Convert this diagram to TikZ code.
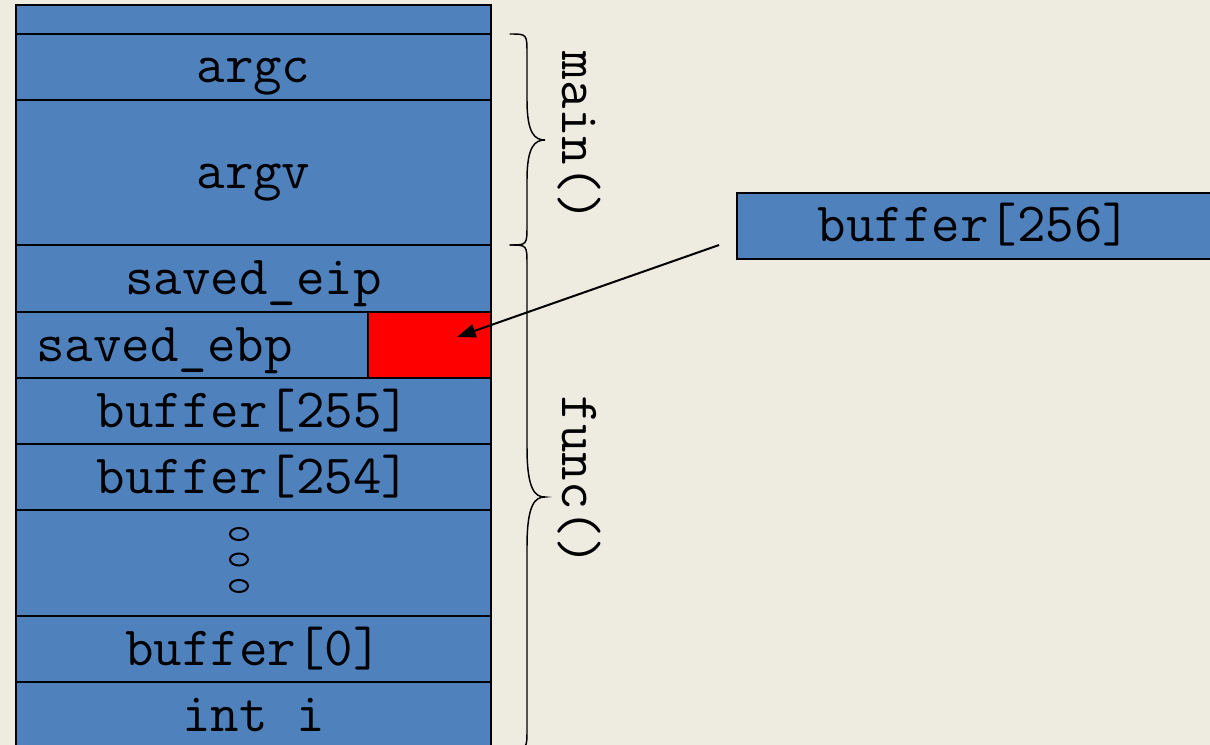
\documentclass[tikz,border=0pt]{standalone}
\usepackage{xcolor}
\usepackage{tikz}
\usetikzlibrary{arrows.meta}

\definecolor{slide}{HTML}{EEECE1}
\definecolor{cellblue}{HTML}{4F81BD}

\begin{document}
\begin{tikzpicture}[x=0.75pt,y=-0.75pt,
  mono/.style={font=\ttfamily\fontsize{41.5}{48}\selectfont,text height=24pt,text depth=0pt,inner sep=0pt},
  cell/.style={mono,draw=black,line width=1.3pt,fill=cellblue,minimum width=356.25pt},
  brace/.style={line width=1.1pt,line cap=round},
  ptr/.style={line width=1.5pt,-{Triangle[length=14pt,width=10pt]}}]
\useasboundingbox (0,0) rectangle (1210,745);
\clip (0,0) rectangle (1210,745);
\fill[slide] (0,0) rectangle (1210,745);
% the stack
\node[cell,minimum height=19.5pt] (top) at (253.5,21) {};
\node[cell,minimum height=49.5pt] (argc) at (253.5,67) {argc};
\node[cell,minimum height=108.75pt] (argv) at (253.5,172.5) {argv};
\node[cell,minimum height=50.25pt] (eip) at (253.5,278.5) {saved\_eip};
\node[cell,minimum height=49.5pt] (ebp) at (253.5,345) {};
\node[cell,fill=red,minimum width=92.25pt,minimum height=49.5pt] (hit) at (429.5,345) {};
\node[mono,anchor=west] (ebplabel) at (36,345) {saved\_ebp};
\node[cell,minimum height=49.5pt] (b255) at (253.5,411) {buffer[255]};
\node[cell,minimum height=49.5pt] (b254) at (253.5,477) {buffer[254]};
\node[cell,minimum height=79.5pt] (gap) at (253.5,563) {};
\foreach \y in {534,559.5,586}
  \draw[line width=1.5pt] (239,\y) ellipse [x radius=6.75pt,y radius=4.5pt];
\node[cell,minimum height=49.5pt] (b0) at (253.5,649) {buffer[0]};
\node[cell,minimum height=49.5pt] (inti) at (253.5,715) {int i};
% the braces
\draw[brace] (510,34) .. controls (527,34) .. (527,54) -- (527,100)
  .. controls (527,134) and (535,140) .. (545,140)
  .. controls (535,140) and (527,146) .. (527,180) -- (527,225)
  .. controls (527,245) .. (510,245);
\draw[brace] (510,245) .. controls (527,245) .. (527,265) -- (527,447)
  .. controls (527,490) and (535,497) .. (545,497)
  .. controls (535,497) and (527,504) .. (527,547) -- (527,729)
  .. controls (527,749) .. (510,749);
\node[mono,rotate=-90] (mainlabel) at (578,137) {main()};
\node[mono,rotate=-90] (funclabel) at (578,481) {func()};
% the overflow
\node[cell,minimum width=356.25pt,minimum height=49.5pt] (b256) at (974.5,226) {buffer[256]};
\draw[ptr] ([xshift=-12.75pt,yshift=-14.25pt]b256.west) -- ([xshift=20.6pt,yshift=6pt]hit.center);
\end{tikzpicture}
\end{document}
